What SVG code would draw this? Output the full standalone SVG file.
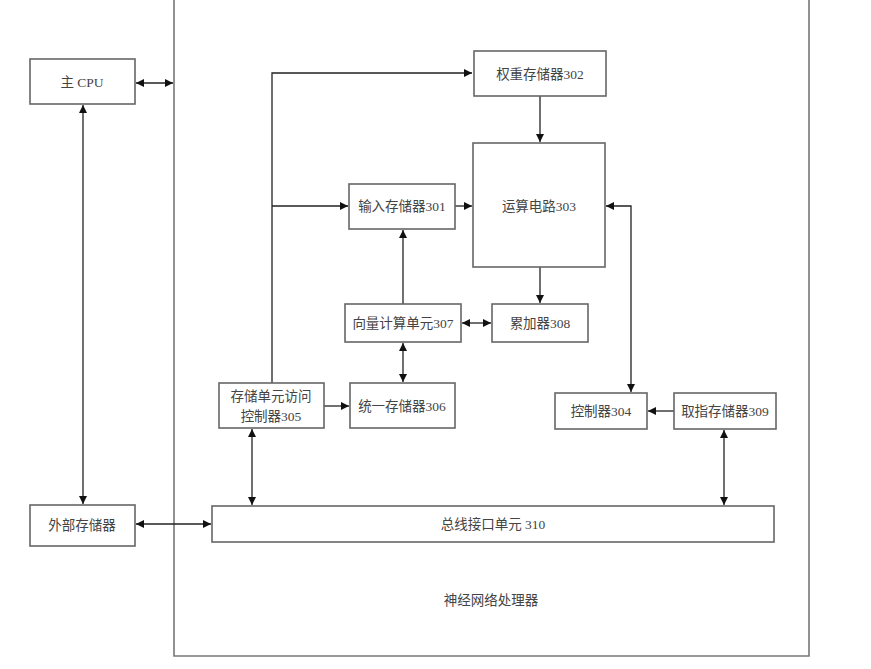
<svg xmlns="http://www.w3.org/2000/svg" width="871" height="669" viewBox="0 0 871 669">
<style>
.box{fill:#fff;stroke:#666;stroke-width:1.6}
.outer{fill:none;stroke:#777;stroke-width:1.6}
.ln{fill:none;stroke:#222;stroke-width:1.3}
text{font-family:"Liberation Serif","Noto Sans CJK SC",serif;font-size:13.5px;fill:#444;text-anchor:middle;dominant-baseline:central}
</style>
<defs>
<marker id="ah" viewBox="0 0 10 10" refX="10" refY="5" markerWidth="8" markerHeight="8" markerUnits="userSpaceOnUse" orient="auto-start-reverse">
<path d="M0,0 L10,5 L0,10 z" fill="#111"/>
</marker>
</defs>
<rect width="871" height="669" fill="#fff"/>
<g id="npu">
<path class="outer" d="M174,-2 V656 H809 V-2"/>
<text x="491" y="600">神经网络处理器</text>
</g>
<g id="connectors">
<line class="ln" x1="136" y1="83" x2="173" y2="83" marker-start="url(#ah)" marker-end="url(#ah)"/>
<line class="ln" x1="83" y1="105" x2="83" y2="504" marker-start="url(#ah)" marker-end="url(#ah)"/>
<line class="ln" x1="136" y1="524" x2="211" y2="524" marker-start="url(#ah)" marker-end="url(#ah)"/>
<polyline class="ln" points="272,383 272,73 472,73" marker-end="url(#ah)"/>
<line class="ln" x1="272" y1="206" x2="348" y2="206" marker-end="url(#ah)"/>
<line class="ln" x1="540" y1="96" x2="540" y2="142" marker-end="url(#ah)"/>
<line class="ln" x1="455" y1="206" x2="472" y2="206" marker-end="url(#ah)"/>
<line class="ln" x1="540" y1="267" x2="540" y2="303" marker-end="url(#ah)"/>
<line class="ln" x1="403" y1="304" x2="403" y2="230" marker-end="url(#ah)"/>
<line class="ln" x1="462" y1="323" x2="491" y2="323" marker-start="url(#ah)" marker-end="url(#ah)"/>
<line class="ln" x1="403" y1="343" x2="403" y2="382" marker-start="url(#ah)" marker-end="url(#ah)"/>
<line class="ln" x1="324" y1="406" x2="349" y2="406" marker-end="url(#ah)"/>
<polyline class="ln" points="606,206 631,206 631,392" marker-start="url(#ah)" marker-end="url(#ah)"/>
<line class="ln" x1="674" y1="411" x2="648" y2="411" marker-end="url(#ah)"/>
<line class="ln" x1="252" y1="429" x2="252" y2="505" marker-start="url(#ah)" marker-end="url(#ah)"/>
<line class="ln" x1="724" y1="430" x2="724" y2="505" marker-start="url(#ah)" marker-end="url(#ah)"/>
</g>
<g id="cpu"><rect class="box" x="30" y="59" width="105" height="45"/><text x="82" y="82">主 CPU</text></g>
<g id="extmem"><rect class="box" x="30" y="505" width="105" height="41"/><text x="82" y="525">外部存储器</text></g>
<g id="n302"><rect class="box" x="474" y="51" width="132" height="45"/><text x="540" y="74">权重存储器302</text></g>
<g id="n303"><rect class="box" x="473" y="143" width="132" height="124"/><text x="539" y="206">运算电路303</text></g>
<g id="n301"><rect class="box" x="349" y="184" width="106" height="45"/><text x="402" y="206">输入存储器301</text></g>
<g id="n307"><rect class="box" x="345" y="304" width="116" height="38"/><text x="403" y="323">向量计算单元307</text></g>
<g id="n308"><rect class="box" x="492" y="304" width="96" height="38"/><text x="540" y="323">累加器308</text></g>
<g id="n306"><rect class="box" x="350" y="383" width="105" height="45"/><text x="402" y="406">统一存储器306</text></g>
<g id="n305"><rect class="box" x="219" y="383" width="105" height="45"/><text x="271" y="396">存储单元访问</text><text x="271" y="416">控制器305</text></g>
<g id="n304"><rect class="box" x="555" y="393" width="92" height="36"/><text x="601" y="411">控制器304</text></g>
<g id="n309"><rect class="box" x="674" y="393" width="102" height="36"/><text x="725" y="411">取指存储器309</text></g>
<g id="n310"><rect class="box" x="212" y="506" width="562" height="36"/><text x="493" y="524">总线接口单元 310</text></g>
</svg>
